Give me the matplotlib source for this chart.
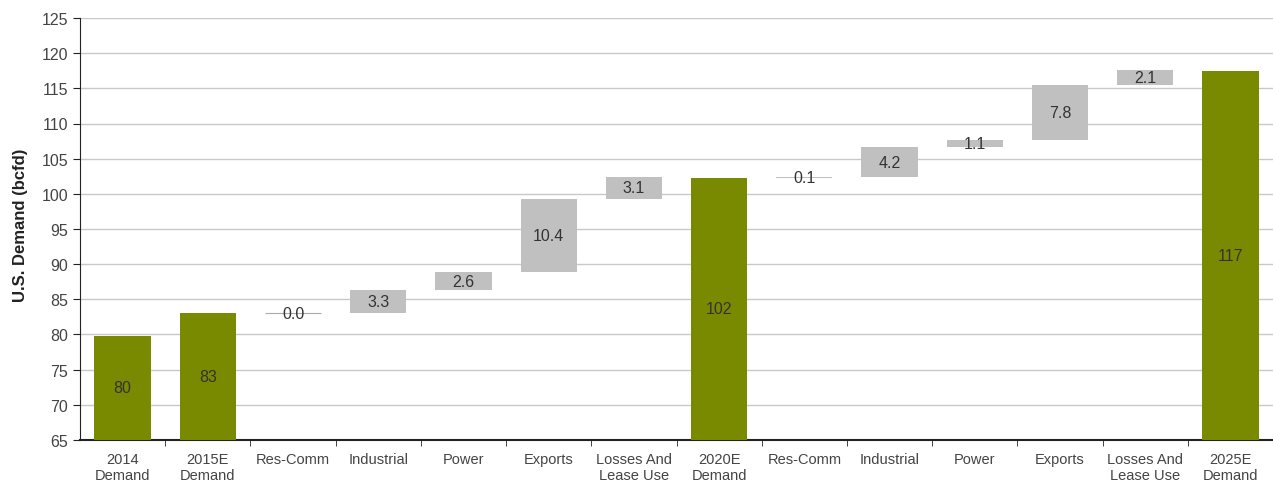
import matplotlib
matplotlib.use("Agg")
import matplotlib.pyplot as plt
import numpy as np

plt.rcParams['font.family'] = ['Liberation Sans', 'DejaVu Sans']

categories = ["2014\nDemand", "2015E\nDemand", "Res-Comm", "Industrial", "Power",
              "Exports", "Losses And\nLease Use", "2020E\nDemand", "Res-Comm",
              "Industrial", "Power", "Exports", "Losses And\nLease Use", "2025E\nDemand"]
# totals are the green bars, increments float on top of the running level
totals = {0: 79.8, 1: 83.0, 7: 102.3, 13: 117.4}
total_labels = {0: "80", 1: "83", 7: "102", 13: "117"}
increments = {2: 0.0, 3: 3.3, 4: 2.6, 5: 10.4, 6: 3.1,
              8: 0.1, 9: 4.2, 10: 1.1, 11: 7.8, 12: 2.1}

GREEN = "#7a8a00"
GRAY = "#c0c0c0"
YMIN, YMAX = 65, 125

fig = plt.figure(figsize=(12.73, 4.85), dpi=100)
ax = fig.add_axes([80 / 1273, 44 / 485, 1193 / 1273, 422 / 485])

x = np.arange(len(categories))
width = 0.66
level = None
for i in x:
    if i in totals:
        level = totals[i]
        ax.bar(i, level - YMIN, bottom=YMIN, width=width, color=GREEN, zorder=3)
        ax.text(i, (YMIN + level) / 2, total_labels[i], ha="center", va="center",
                fontsize=11.5, color="#333333", zorder=4)
    else:
        inc = increments[i]
        if inc < 0.05:
            ax.hlines(level + inc, i - width / 2, i + width / 2, color="#aaaaaa",
                      lw=0.8, zorder=3)
        else:
            ax.bar(i, inc, bottom=level, width=width, color=GRAY, zorder=3)
        ax.text(i, level + inc / 2, f"{inc:.1f}", ha="center", va="center",
                fontsize=11.5, color="#333333", zorder=4)
        level += inc

ax.set_xlim(-0.5, len(categories) - 0.5)
ax.set_ylim(YMIN, YMAX)
ax.set_yticks(np.arange(YMIN, YMAX + 1, 5))
ax.tick_params(axis="y", labelsize=11.5, length=5, color="#222222", labelcolor="#444444")
ax.set_xticks(x)
ax.set_xticklabels(categories, fontsize=10.5, color="#444444", linespacing=1.1)
ax.tick_params(axis="x", which="major", length=0, pad=9)
ax.set_xticks(np.arange(0.5, len(categories) - 0.5, 1), minor=True)
ax.tick_params(axis="x", which="minor", length=4, color="#222222")

ax.yaxis.grid(True, color="#c8c8c8", lw=1, zorder=0)
ax.set_axisbelow(True)
for s in ["top", "right"]:
    ax.spines[s].set_visible(False)
ax.spines["left"].set_color("#222222")
ax.spines["bottom"].set_color("#222222")
ax.spines["bottom"].set_linewidth(1.5)

ax.set_ylabel("U.S. Demand (bcfd)", fontsize=12, fontweight="bold", color="#222222")
ax.yaxis.set_label_coords(-0.044, 0.512)

fig.savefig("out.png", dpi=100)
